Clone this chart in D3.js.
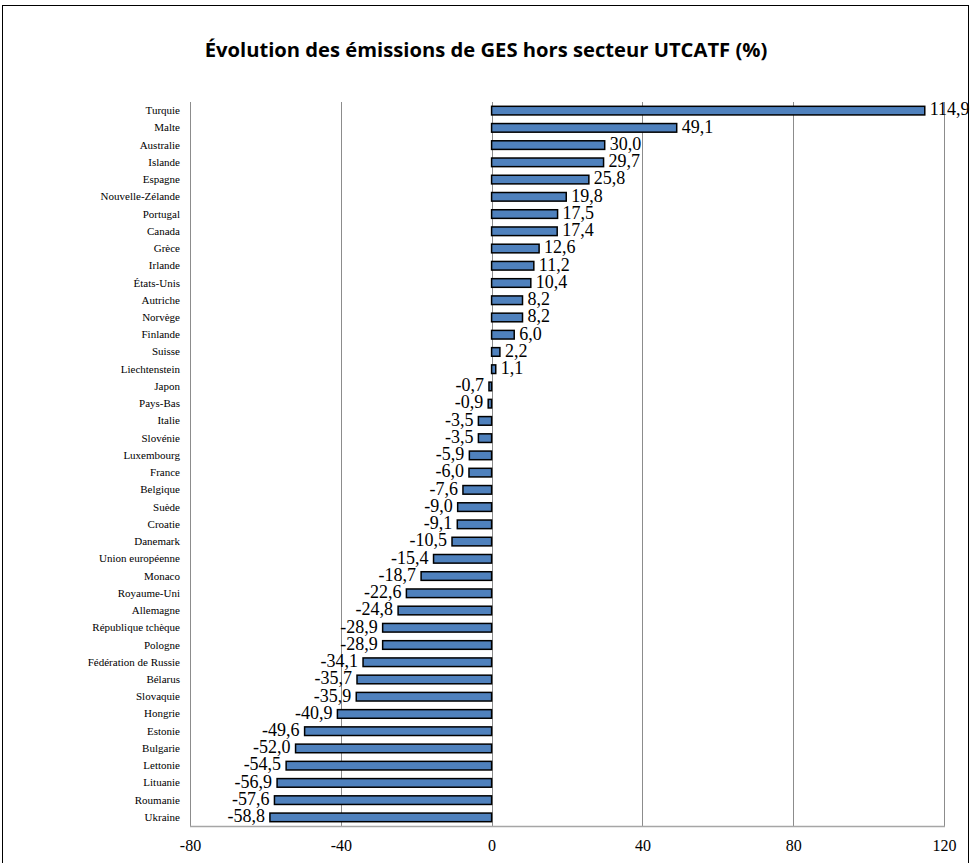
<!DOCTYPE html>
<html>
<head>
<meta charset="utf-8">
<script src="https://cdn.jsdelivr.net/npm/d3@7"></script>
<style>
  body { margin: 0; background: #fff; }
</style>
</head>
<body>
<svg id="chart" width="973" height="863"></svg>
<script>
// data
var countries = ["Turquie", "Malte", "Australie", "Islande", "Espagne", "Nouvelle-Zélande",
  "Portugal", "Canada", "Grèce", "Irlande", "États-Unis", "Autriche", "Norvège", "Finlande",
  "Suisse", "Liechtenstein", "Japon", "Pays-Bas", "Italie", "Slovénie", "Luxembourg", "France",
  "Belgique", "Suède", "Croatie", "Danemark", "Union européenne", "Monaco", "Royaume-Uni",
  "Allemagne", "République tchèque", "Pologne", "Fédération de Russie", "Bélarus", "Slovaquie",
  "Hongrie", "Estonie", "Bulgarie", "Lettonie", "Lituanie", "Roumanie", "Ukraine"];
var values = [114.9, 49.1, 30.0, 29.7, 25.8, 19.8, 17.5, 17.4, 12.6, 11.2, 10.4, 8.2, 8.2, 6.0,
  2.2, 1.1, -0.7, -0.9, -3.5, -3.5, -5.9, -6.0, -7.6, -9.0, -9.1, -10.5, -15.4, -18.7, -22.6,
  -24.8, -28.9, -28.9, -34.1, -35.7, -35.9, -40.9, -49.6, -52.0, -54.5, -56.9, -57.6, -58.8];
var xTicks = [-80, -40, 0, 40, 80, 120];
var title = "Évolution des émissions de GES hors secteur UTCATF (%)";

var data = countries.map((c, i) => ({ name: c, value: values[i] }));

var svg = d3.select("#chart");

var pLeft = 190, pRight = 944, pTop = 102, pBottom = 826;

// outer frame
svg.append("rect")
  .attr("x", 2.5).attr("y", 5.5)
  .attr("width", 966).attr("height", 900)
  .attr("fill", "none").attr("stroke", "#000").attr("stroke-width", 1);

var title_t = svg.append("text")
  .attr("x", 486).attr("y", 57)
  .attr("text-anchor", "middle")
  .attr("font-family", "'Open Sans', sans-serif")
  .attr("font-weight", "bold")
  .attr("font-size", 20)
  .attr("fill", "#000")
  .text(title);
// squeeze the title to the width seen in the picture
var tw = title_t.node().getComputedTextLength();
title_t.attr("font-size", 20 * 563 / tw);

var x = d3.scaleLinear().domain([-80, 120]).range([pLeft, pRight]);
var y = d3.scaleBand().domain(countries).range([pTop, pBottom]).paddingInner(0.5).paddingOuter(0.25);

// grid lines
svg.append("g")
  .selectAll("line")
  .data(xTicks)
  .enter()
  .append("line")
  .attr("x1", d => Math.round(x(d)) + 0.5)
  .attr("x2", d => Math.round(x(d)) + 0.5)
  .attr("y1", pTop).attr("y2", pBottom)
  .attr("stroke", "#8c8c8c").attr("stroke-width", 1);

// bottom axis line
svg.append("line")
  .attr("x1", pLeft).attr("x2", pRight + 1)
  .attr("y1", pBottom + 0.5).attr("y2", pBottom + 0.5)
  .attr("stroke", "#a6a6a6").attr("stroke-width", 1.5);

// x axis labels
var xAxis = d3.axisBottom(x).tickValues(xTicks).tickSize(0).tickPadding(14).tickFormat(d => String(d));
var gx = svg.append("g")
  .attr("transform", "translate(0," + pBottom + ")")
  .call(xAxis);
gx.select(".domain").remove();
gx.selectAll("text")
  .attr("font-family", "'Liberation Serif', 'Times New Roman', serif")
  .attr("font-size", 16)
  .attr("fill", "#000");

// category labels
var yAxis = d3.axisLeft(y).tickSize(0).tickPadding(10);
var gy = svg.append("g")
  .attr("transform", "translate(" + pLeft + ",0)")
  .call(yAxis);
gy.select(".domain").remove();
gy.selectAll("text")
  .attr("font-family", "'Liberation Serif', 'Times New Roman', serif")
  .attr("font-size", 11)
  .attr("fill", "#000");

// bars
svg.append("g")
  .selectAll("rect")
  .data(data)
  .enter()
  .append("rect")
  .attr("x", d => x(Math.min(0, d.value)))
  .attr("y", d => y(d.name))
  .attr("width", d => Math.abs(x(d.value) - x(0)))
  .attr("height", y.bandwidth())
  .attr("fill", "#4f81bd")
  .attr("stroke", "#000")
  .attr("stroke-width", 1.5);

// value labels
svg.append("g")
  .selectAll("text")
  .data(data)
  .enter()
  .append("text")
  .attr("x", d => d.value >= 0 ? x(d.value) + 5 : x(d.value) - 5)
  .attr("y", d => y(d.name) + y.bandwidth() + 0.5)
  .attr("text-anchor", d => d.value >= 0 ? "start" : "end")
  .attr("font-family", "'Liberation Serif', 'Times New Roman', serif")
  .attr("font-size", 18)
  .attr("fill", "#000")
  .text(d => d.value.toFixed(1).replace(".", ","));
</script>
</body>
</html>
